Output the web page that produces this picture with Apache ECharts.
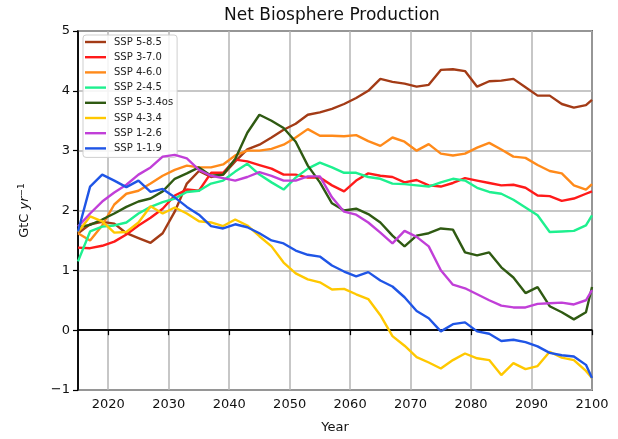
<!DOCTYPE html>
<html>
<head>
<meta charset="utf-8">
<script src="https://cdn.jsdelivr.net/npm/echarts@6/dist/echarts.min.js"></script>
<style>
  html, body { margin: 0; padding: 0; background: #fff; }
  #main { width: 618px; height: 439px; }
</style>
</head>
<body>
<div id="main"></div>
<script>
// years sampled every 2 years (plus 2100)
const years = [2015, 2017, 2019, 2021, 2023, 2025, 2027, 2029, 2031, 2033, 2035, 2037, 2039, 2041, 2043,
  2045, 2047, 2049, 2051, 2053, 2055, 2057, 2059, 2061, 2063, 2065, 2067, 2069, 2071, 2073, 2075,
  2077, 2079, 2081, 2083, 2085, 2087, 2089, 2091, 2093, 2095, 2097, 2099, 2100];

const xTicks = [2020, 2030, 2040, 2050, 2060, 2070, 2080, 2090, 2100];

const ssp585 = [1.62, 1.77, 1.81, 1.78, 1.62, 1.54, 1.46, 1.62, 1.98, 2.45, 2.66, 2.56, 2.6, 2.82, 3.02,
  3.1, 3.22, 3.35, 3.45, 3.6, 3.64, 3.7, 3.78, 3.88, 4.0, 4.2, 4.15, 4.12, 4.07, 4.1, 4.35,
  4.36, 4.33, 4.07, 4.16, 4.17, 4.2, 4.06, 3.92, 3.92, 3.78, 3.72, 3.76, 3.85];
const ssp370 = [1.38, 1.37, 1.41, 1.48, 1.6, 1.75, 1.88, 2.03, 2.25, 2.35, 2.33, 2.63, 2.63, 2.85, 2.82,
  2.76, 2.7, 2.6, 2.6, 2.55, 2.55, 2.42, 2.32, 2.5, 2.62, 2.58, 2.56, 2.47, 2.51, 2.42, 2.4,
  2.46, 2.54, 2.5, 2.46, 2.42, 2.43, 2.38, 2.25, 2.24, 2.16, 2.2, 2.28, 2.32];
const ssp460 = [1.62, 1.5, 1.75, 2.1, 2.28, 2.33, 2.45, 2.58, 2.68, 2.75, 2.72, 2.72, 2.77, 2.92, 3.0,
  3.0, 3.03, 3.1, 3.22, 3.36, 3.25, 3.25, 3.24, 3.26, 3.16, 3.08, 3.22, 3.15, 3.0, 3.11, 2.95,
  2.92, 2.95, 3.05, 3.13, 3.02, 2.9, 2.88, 2.76, 2.66, 2.62, 2.42, 2.35, 2.44];
const ssp245 = [1.15, 1.65, 1.73, 1.75, 1.8, 1.95, 2.06, 2.14, 2.2, 2.31, 2.33, 2.45, 2.5, 2.65, 2.78,
  2.6, 2.47, 2.35, 2.55, 2.7, 2.8, 2.72, 2.63, 2.63, 2.56, 2.53, 2.45, 2.44, 2.42, 2.4, 2.47,
  2.53, 2.5, 2.38, 2.31, 2.28, 2.18, 2.05, 1.92, 1.64, 1.65, 1.66, 1.75, 1.92];
const ssp534os = [1.72, 1.76, 1.85, 1.95, 2.06, 2.15, 2.2, 2.32, 2.53, 2.62, 2.72, 2.58, 2.6, 2.86, 3.3,
  3.6, 3.5, 3.38, 3.15, 2.75, 2.47, 2.12, 2.0, 2.03, 1.94, 1.8, 1.58, 1.4, 1.58, 1.62, 1.7,
  1.68, 1.3, 1.25, 1.3, 1.05, 0.88, 0.62, 0.72, 0.4, 0.3, 0.18, 0.3, 0.72];
const ssp434 = [1.64, 1.9, 1.82, 1.63, 1.64, 1.8, 2.07, 1.95, 2.05, 1.95, 1.82, 1.8, 1.74, 1.85, 1.75,
  1.57, 1.4, 1.13, 0.95, 0.85, 0.8, 0.68, 0.69, 0.6, 0.52, 0.25, -0.1, -0.26, -0.45, -0.54, -0.64,
  -0.5, -0.39, -0.47, -0.5, -0.75, -0.55, -0.65, -0.6, -0.36, -0.46, -0.5, -0.68, -0.8];
const ssp126 = [1.73, 1.95, 2.15, 2.3, 2.43, 2.6, 2.72, 2.9, 2.93, 2.87, 2.68, 2.58, 2.54, 2.5, 2.56,
  2.64, 2.58, 2.5, 2.5, 2.57, 2.57, 2.22, 1.98, 1.93, 1.8, 1.63, 1.45, 1.66, 1.56, 1.4, 1.0,
  0.76, 0.7, 0.6, 0.5, 0.41, 0.38, 0.38, 0.44, 0.45, 0.46, 0.43, 0.5, 0.67];
const ssp119 = [1.65, 2.4, 2.6, 2.5, 2.39, 2.5, 2.31, 2.36, 2.22, 2.06, 1.93, 1.74, 1.7, 1.77, 1.72,
  1.62, 1.5, 1.45, 1.33, 1.26, 1.23, 1.08, 0.98, 0.9, 0.97, 0.83, 0.73, 0.55, 0.32, 0.2, -0.02,
  0.1, 0.13, -0.02, -0.06, -0.18, -0.16, -0.2, -0.27, -0.38, -0.42, -0.44, -0.58, -0.8];

const names = ['SSP 5-8.5', 'SSP 3-7.0', 'SSP 4-6.0', 'SSP 2-4.5', 'SSP 5-3.4os', 'SSP 4-3.4', 'SSP 1-2.6', 'SSP 1-1.9'];
const values = [ssp585, ssp370, ssp460, ssp245, ssp534os, ssp434, ssp126, ssp119];
const colors = ['#a33b16', '#ff1a1a', '#ff8a1a', '#1ef08f', '#2f5a12', '#ffc800', '#c13fd8', '#1f55e6'];

const font = 'DejaVu Sans';
const chart = echarts.init(document.getElementById('main'));

const series = names.map((name, k) => ({
  name: name,
  type: 'line',
  symbol: 'none',
  data: years.map((y, i) => [y, values[k][i]]),
  lineStyle: { color: colors[k], width: 2.4 },
  itemStyle: { color: colors[k] },
  z: 3 + k
}));

// zero line (axhline)
series[0].markLine = {
  silent: true,
  symbol: 'none',
  label: { show: false },
  lineStyle: { color: '#000', width: 1.5, type: 'solid' },
  data: [{ yAxis: 0 }]
};

chart.setOption({
  animation: false,
  backgroundColor: '#fff',
  title: {
    text: 'Net Biosphere Production',
    left: 219,
    top: 2,
    textStyle: { fontFamily: font, fontSize: 17, fontWeight: 'normal', color: '#111' }
  },
  legend: {
    orient: 'vertical',
    left: 83,
    top: 35,
    data: names,
    icon: 'path://M0,4 L21,4 L21,6.4 L0,6.4 Z',
    itemWidth: 21,
    itemHeight: 10,
    itemGap: 5.2,
    padding: [2, 4, 4, 2],
    backgroundColor: 'rgba(255,255,255,0.85)',
    borderColor: '#cfcfcf',
    borderWidth: 1,
    borderRadius: 3,
    textStyle: { fontFamily: font, fontSize: 10, color: '#222', padding: [0, 0, 0, 3] }
  },
  grid: {
    left: 78, right: 26, top: 31, bottom: 47,
    show: true,
    borderColor: '#000',
    borderWidth: 1.5,
    backgroundColor: '#fff'
  },
  xAxis: {
    type: 'value',
    min: 2015,
    max: 2100,
    name: 'Year',
    nameLocation: 'middle',
    nameGap: 31,
    nameTextStyle: { fontFamily: font, fontSize: 13, color: '#111' },
    axisLine: { lineStyle: { color: '#000', width: 1.5 } },
    axisTick: { customValues: xTicks, length: 5, lineStyle: { color: '#000', width: 1.2 } },
    axisLabel: {
      customValues: xTicks,
      fontFamily: font, fontSize: 13, color: '#111', margin: 8,
      formatter: v => String(v)
    },
    splitLine: { show: true, lineStyle: { color: '#b4b4b4', width: 1.5 } }
  },
  yAxis: {
    type: 'value',
    min: -1,
    max: 5,
    interval: 1,
    name: '{a|GtC }{b|yr}{c|\u22121}',
    nameLocation: 'middle',
    nameGap: 46,
    nameRotate: 90,
    nameTextStyle: {
      fontFamily: font, fontSize: 13, color: '#111',
      rich: {
        a: { fontFamily: font, fontSize: 13, color: '#111' },
        b: { fontFamily: font, fontSize: 13, color: '#111', fontStyle: 'italic' },
        c: { fontFamily: font, fontSize: 9, color: '#111', verticalAlign: 'top', padding: [0, 0, 6, 0] }
      }
    },
    axisLine: { show: true, lineStyle: { color: '#000', width: 1.5 } },
    axisTick: { show: true, length: 5, lineStyle: { color: '#000', width: 1.2 } },
    axisLabel: {
      fontFamily: font, fontSize: 13, color: '#111', margin: 8,
      formatter: v => String(v).replace('-', '\u2212')
    },
    splitLine: { show: true, lineStyle: { color: '#b4b4b4', width: 1.5 } }
  },
  series: series
});
</script>
</body>
</html>
